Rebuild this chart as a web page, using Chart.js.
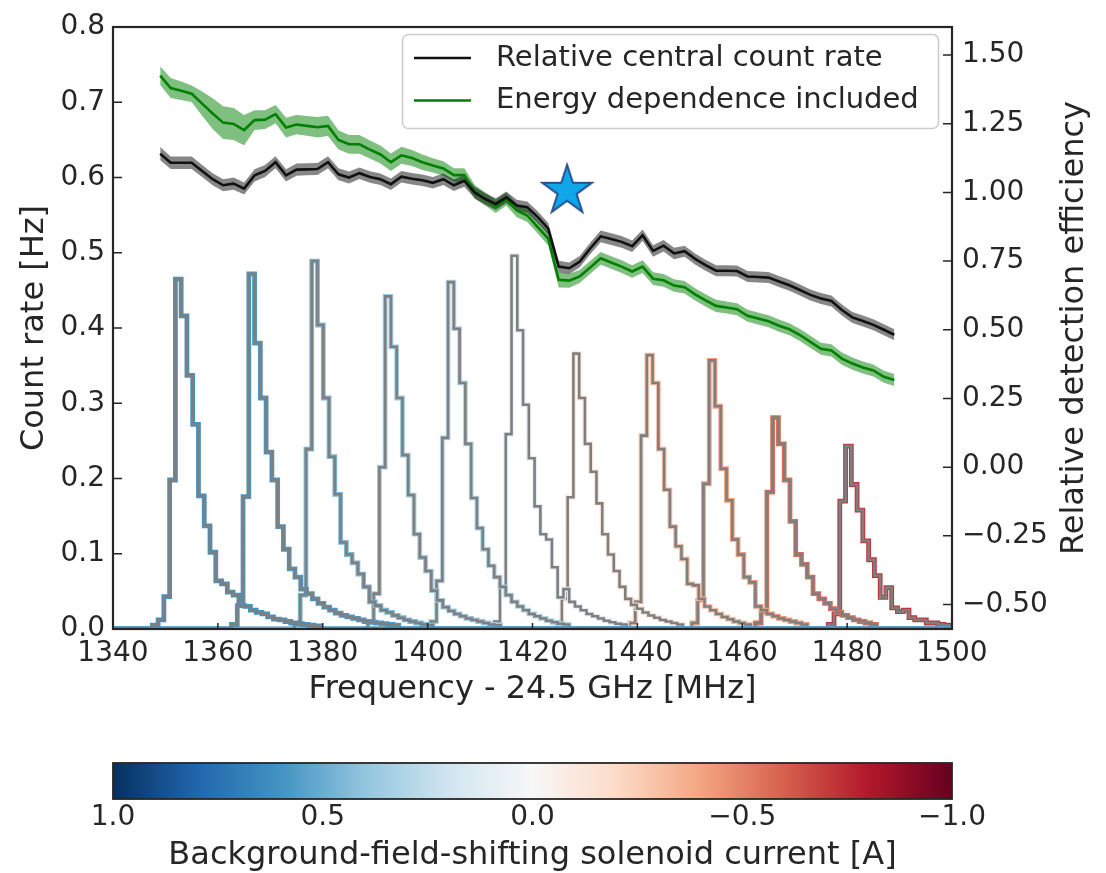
<!DOCTYPE html>
<html lang="en">
<head>
  <meta charset="UTF-8" />
  <title>Count rate vs frequency</title>
  <script src="https://cdn.jsdelivr.net/npm/chart.js@4.4.0/dist/chart.umd.min.js"></script>
  <style>
    * { margin: 0; padding: 0; }
    body { width: 1106px; height: 873px; background: #fff; position: relative; overflow: hidden; }
    #mainBox { position: absolute; left: 0; top: 0; width: 1106px; height: 720px; }
    #barBox { position: absolute; left: 0; top: 740px; width: 1106px; height: 133px; }
  </style>
</head>
<body>
  <div id="mainBox"><canvas id="mainChart"></canvas></div>
  <div id="barBox"><canvas id="colorBar"></canvas></div>
  <script>
    // ---- data ----
    const curveFreq = [
      1349, 1351, 1353, 1355, 1357, 1359, 1361, 1363, 1365, 1367,
      1369, 1371, 1373, 1375, 1377, 1379, 1381, 1383, 1385, 1387,
      1389, 1391, 1393, 1395, 1397, 1399, 1401, 1403, 1405, 1407,
      1409, 1411, 1413, 1415, 1417, 1419, 1421, 1423, 1425, 1427,
      1429, 1431, 1433, 1435, 1437, 1439, 1441, 1443, 1445, 1447,
      1449, 1451, 1453, 1455, 1457, 1459, 1461, 1463, 1465, 1467,
      1469, 1471, 1473, 1475, 1477, 1479, 1481, 1483, 1485, 1487,
      1489
    ];
    // relative central count rate (right axis units)
    const rateEff = [
      1.141, 1.108, 1.108, 1.108, 1.078, 1.048, 1.026, 1.032, 1.014, 1.062,
      1.078, 1.110, 1.062, 1.083, 1.084, 1.085, 1.110, 1.066, 1.054, 1.070,
      1.056, 1.048, 1.030, 1.057, 1.050, 1.044, 1.035, 1.048, 1.026, 1.042,
      0.999, 0.976, 0.958, 0.982, 0.952, 0.946, 0.910, 0.868, 0.730, 0.724,
      0.748, 0.796, 0.840, 0.830, 0.820, 0.804, 0.844, 0.787, 0.806, 0.778,
      0.786, 0.758, 0.735, 0.715, 0.715, 0.714, 0.694, 0.692, 0.690, 0.676,
      0.662, 0.645, 0.627, 0.614, 0.605, 0.572, 0.545, 0.532, 0.518, 0.500,
      0.482
    ];
    const rateErr = [
      0.024, 0.023, 0.023, 0.023, 0.022, 0.022, 0.022, 0.022, 0.022, 0.022,
      0.022, 0.022, 0.022, 0.022, 0.022, 0.022, 0.022, 0.022, 0.022, 0.021,
      0.021, 0.021, 0.021, 0.021, 0.021, 0.021, 0.021, 0.021, 0.021, 0.021,
      0.021, 0.021, 0.021, 0.021, 0.021, 0.021, 0.021, 0.021, 0.021, 0.021,
      0.021, 0.021, 0.021, 0.021, 0.021, 0.021, 0.021, 0.021, 0.021, 0.021,
      0.020, 0.020, 0.020, 0.020, 0.020, 0.020, 0.020, 0.020, 0.020, 0.020,
      0.020, 0.020, 0.020, 0.020, 0.020, 0.020, 0.020, 0.020, 0.020, 0.020,
      0.020
    ];
    // energy dependence included
    const energyEff = [
      1.425, 1.380, 1.370, 1.359, 1.323, 1.287, 1.254, 1.249, 1.227, 1.263,
      1.265, 1.285, 1.236, 1.247, 1.242, 1.237, 1.242, 1.191, 1.175, 1.175,
      1.156, 1.138, 1.110, 1.135, 1.125, 1.110, 1.098, 1.087, 1.063, 1.063,
      1.002, 0.976, 0.949, 0.976, 0.934, 0.916, 0.874, 0.832, 0.682, 0.679,
      0.694, 0.727, 0.760, 0.745, 0.730, 0.712, 0.730, 0.686, 0.680, 0.661,
      0.655, 0.629, 0.607, 0.587, 0.581, 0.575, 0.551, 0.541, 0.531, 0.515,
      0.502, 0.481, 0.456, 0.431, 0.425, 0.395, 0.377, 0.363, 0.352, 0.329,
      0.317
    ];
    const energyErr = [
      0.034, 0.036, 0.034, 0.030, 0.044, 0.056, 0.060, 0.058, 0.055, 0.036,
      0.034, 0.033, 0.036, 0.035, 0.036, 0.037, 0.037, 0.035, 0.034, 0.034,
      0.033, 0.033, 0.032, 0.031, 0.029, 0.028, 0.026, 0.026, 0.025, 0.025,
      0.025, 0.024, 0.024, 0.024, 0.024, 0.024, 0.024, 0.025, 0.028, 0.026,
      0.024, 0.023, 0.023, 0.023, 0.023, 0.023, 0.023, 0.023, 0.023, 0.023,
      0.023, 0.022, 0.022, 0.022, 0.022, 0.022, 0.022, 0.022, 0.022, 0.022,
      0.022, 0.022, 0.022, 0.022, 0.022, 0.022, 0.022, 0.022, 0.022, 0.022,
      0.022
    ];

    // marker star
    const starFreq = [1426.6];
    const starEff = [1.006];

    // step histograms: left edge of first bin, solenoid current, counts [Hz]
    const binWidth = 1.1;
    const histStart = [1347.5, 1362.6, 1374.6, 1388.6, 1400.6, 1412.7, 1424.5, 1438.5, 1450.4, 1462.5, 1476.4];
    const histCurrent = [0.6, 0.58, 0.45, 0.36, 0.3, 0.1, -0.12, -0.3, -0.42, -0.56, -0.72];
    const histCounts = [
      [0.005, 0.012, 0.043, 0.198, 0.465, 0.416, 0.337, 0.272, 0.177, 0.137, 0.102, 0.064, 0.060, 0.049, 0.045, 0.031, 0.030, 0.025, 0.022, 0.020, 0.016, 0.013, 0.012, 0.010, 0.008, 0.007, 0.006, 0.005, 0.004],
      [0.006, 0.031, 0.176, 0.472, 0.380, 0.307, 0.235, 0.198, 0.136, 0.106, 0.080, 0.069, 0.053, 0.047, 0.040, 0.034, 0.029, 0.025, 0.021, 0.018, 0.016, 0.014, 0.012, 0.010, 0.009, 0.008, 0.007, 0.006, 0.005],
      [0.006, 0.045, 0.239, 0.489, 0.404, 0.307, 0.229, 0.179, 0.115, 0.099, 0.088, 0.073, 0.056, 0.036, 0.031, 0.025, 0.022, 0.018, 0.015, 0.012, 0.010, 0.008, 0.006, 0.005],
      [0.010, 0.047, 0.215, 0.442, 0.375, 0.307, 0.231, 0.178, 0.126, 0.095, 0.077, 0.051, 0.038, 0.029, 0.024, 0.020, 0.017, 0.014, 0.012, 0.010, 0.008, 0.006, 0.005],
      [0.010, 0.064, 0.254, 0.461, 0.399, 0.327, 0.246, 0.174, 0.134, 0.106, 0.084, 0.069, 0.056, 0.045, 0.036, 0.030, 0.025, 0.020, 0.017, 0.014, 0.011, 0.009, 0.007, 0.006],
      [0.010, 0.056, 0.259, 0.496, 0.397, 0.298, 0.227, 0.163, 0.126, 0.119, 0.082, 0.042, 0.053, 0.036, 0.030, 0.025, 0.020, 0.017, 0.014, 0.011, 0.009, 0.007, 0.006],
      [0.008, 0.040, 0.175, 0.366, 0.307, 0.246, 0.209, 0.167, 0.126, 0.099, 0.077, 0.056, 0.040, 0.032, 0.027, 0.022, 0.018, 0.015, 0.012, 0.010, 0.008, 0.006],
      [0.008, 0.036, 0.257, 0.364, 0.327, 0.239, 0.185, 0.136, 0.110, 0.093, 0.060, 0.058, 0.040, 0.030, 0.025, 0.020, 0.016, 0.013, 0.010, 0.008, 0.006],
      [0.008, 0.038, 0.193, 0.357, 0.296, 0.213, 0.171, 0.119, 0.099, 0.069, 0.062, 0.030, 0.025, 0.020, 0.017, 0.014, 0.012, 0.010, 0.008, 0.006],
      [0.008, 0.023, 0.182, 0.281, 0.246, 0.198, 0.143, 0.099, 0.086, 0.069, 0.047, 0.040, 0.034, 0.027, 0.022, 0.018, 0.015, 0.012, 0.010, 0.008, 0.006],
      [0.006, 0.020, 0.170, 0.243, 0.192, 0.158, 0.117, 0.092, 0.071, 0.042, 0.055, 0.028, 0.023, 0.025, 0.015, 0.012, 0.012, 0.008, 0.008, 0.006, 0.005]
    ];

    const freqTicks = [1340, 1360, 1380, 1400, 1420, 1440, 1460, 1480, 1500];
    const countTicks = [0, 0.1, 0.2, 0.3, 0.4, 0.5, 0.6, 0.7, 0.8];
    const effTicks = [-0.5, -0.25, 0, 0.25, 0.5, 0.75, 1.0, 1.25, 1.5];
    const currentTicks = [1, 0.5, 0, -0.5, -1];

    // RdBu reversed, blue (current +1) to red (current -1)
    const cmapStops = ['#053061', '#2166ac', '#4393c3', '#92c5de', '#d1e5f0', '#f7f7f7',
                       '#fddbc7', '#f4a582', '#d6604d', '#b2182b', '#67001f'];

    // ---- helpers ----
    Chart.defaults.font.family = "'DejaVu Sans', sans-serif";
    Chart.defaults.color = '#262626';

    function minusFmt(v, d) {
      return (v < 0 ? '\u2212' : '') + Math.abs(v).toFixed(d);
    }

    function hexRgb(h) {
      return [parseInt(h.slice(1, 3), 16), parseInt(h.slice(3, 5), 16), parseInt(h.slice(5, 7), 16)];
    }

    function cmapColor(current) {
      const t = Math.min(Math.max((1 - current) / 2, 0), 1);
      const n = cmapStops.length - 1;
      const p = t * n;
      const i = Math.min(Math.floor(p), n - 1);
      const f = p - i;
      const a = hexRgb(cmapStops[i]);
      const b = hexRgb(cmapStops[i + 1]);
      const c = a.map((v, k) => Math.round(v + (b[k] - v) * f));
      return 'rgb(' + c.join(',') + ')';
    }

    function histPoints(start, counts) {
      const pts = [{ x: 1340, y: 0 }];
      counts.forEach((v, i) => pts.push({ x: start + i * binWidth, y: v }));
      pts.push({ x: start + counts.length * binWidth, y: 0 });
      pts.push({ x: 1500, y: 0 });
      return pts;
    }

    function starImage() {
      const c = document.createElement('canvas');
      c.width = 60;
      c.height = 60;
      const g = c.getContext('2d');
      const R = 26, r = 26 * 0.382;
      g.beginPath();
      for (let i = 0; i < 10; i++) {
        const rad = i % 2 === 0 ? R : r;
        const ang = -Math.PI / 2 + i * Math.PI / 5;
        const px = 30 + rad * Math.cos(ang);
        const py = 30 + rad * Math.sin(ang);
        if (i === 0) g.moveTo(px, py); else g.lineTo(px, py);
      }
      g.closePath();
      g.fillStyle = '#0fa6ea';
      g.fill();
      g.lineWidth = 2;
      g.lineJoin = 'miter';
      g.strokeStyle = '#24508f';
      g.stroke();
      return c;
    }

    // ---- datasets ----
    const datasets = [];

    datasets.push({
      label: 'star',
      data: starFreq.map((f, i) => ({ x: f, y: starEff[i] })),
      yAxisID: 'y1',
      showLine: false,
      pointStyle: starImage(),
      pointRadius: 26,
      order: 0
    });

    datasets.push({
      label: 'Relative central count rate',
      inLegend: true,
      data: curveFreq.map((f, i) => ({ x: f, y: rateEff[i] })),
      yAxisID: 'y1',
      borderColor: '#111111',
      borderWidth: 2.6,
      pointRadius: 0,
      fill: false,
      order: 1
    });

    datasets.push({
      label: 'Energy dependence included',
      inLegend: true,
      data: curveFreq.map((f, i) => ({ x: f, y: energyEff[i] })),
      yAxisID: 'y1',
      borderColor: '#008000',
      borderWidth: 2.6,
      pointRadius: 0,
      fill: false,
      order: 2
    });

    // error bands: upper fills to the next dataset (lower)
    datasets.push({
      data: curveFreq.map((f, i) => ({ x: f, y: rateEff[i] + rateErr[i] })),
      yAxisID: 'y1', borderWidth: 0, borderColor: 'transparent', pointRadius: 0,
      backgroundColor: 'rgba(0,0,0,0.47)', fill: '+1', order: 3
    });
    datasets.push({
      data: curveFreq.map((f, i) => ({ x: f, y: rateEff[i] - rateErr[i] })),
      yAxisID: 'y1', borderWidth: 0, borderColor: 'transparent', pointRadius: 0,
      fill: false, order: 3
    });
    datasets.push({
      data: curveFreq.map((f, i) => ({ x: f, y: energyEff[i] + energyErr[i] })),
      yAxisID: 'y1', borderWidth: 0, borderColor: 'transparent', pointRadius: 0,
      backgroundColor: 'rgba(0,128,0,0.5)', fill: '+1', order: 4
    });
    datasets.push({
      data: curveFreq.map((f, i) => ({ x: f, y: energyEff[i] - energyErr[i] })),
      yAxisID: 'y1', borderWidth: 0, borderColor: 'transparent', pointRadius: 0,
      fill: false, order: 4
    });

    histCounts.forEach((counts, i) => {
      const pts = histPoints(histStart[i], counts);
      datasets.push({
        data: pts, yAxisID: 'y', stepped: true, pointRadius: 0,
        borderColor: '#7f7f7f', borderWidth: 2.6, fill: false, order: 10 + i * 2
      });
      datasets.push({
        data: pts, yAxisID: 'y', stepped: true, pointRadius: 0,
        borderColor: cmapColor(histCurrent[i]), borderWidth: 4.8, fill: false, order: 11 + i * 2
      });
    });

    // ---- frame, inward ticks, right title, legend ----
    const framePlugin = {
      id: 'frame',
      afterDatasetsDraw(chart) {
        const { ctx, chartArea: a, scales } = chart;
        ctx.save();
        ctx.strokeStyle = '#262626';
        ctx.lineWidth = 1.5;
        ctx.beginPath();
        freqTicks.forEach(v => {
          const px = scales.x.getPixelForValue(v);
          ctx.moveTo(px, a.bottom);
          ctx.lineTo(px, a.bottom - 6);
        });
        countTicks.forEach(v => {
          const py = scales.y.getPixelForValue(v);
          ctx.moveTo(a.left, py);
          ctx.lineTo(a.left + 9, py);
        });
        effTicks.forEach(v => {
          const py = scales.y1.getPixelForValue(v);
          ctx.moveTo(a.right, py);
          ctx.lineTo(a.right - 9, py);
        });
        ctx.stroke();
        ctx.lineWidth = 2.2;
        ctx.strokeRect(a.left, a.top, a.right - a.left, a.bottom - a.top);
        ctx.restore();
      },
      afterDraw(chart) {
        const { ctx, chartArea: a } = chart;
        ctx.save();
        // right axis title, reading bottom to top
        ctx.translate(1075, (a.top + a.bottom) / 2);
        ctx.rotate(-Math.PI / 2);
        ctx.fillStyle = '#262626';
        ctx.font = "32px 'DejaVu Sans', sans-serif";
        ctx.textAlign = 'center';
        ctx.textBaseline = 'middle';
        ctx.fillText('Relative detection efficiency', 0, 0);
        ctx.restore();

        // legend box
        const items = chart.data.datasets.filter(d => d.inLegend);
        ctx.save();
        ctx.beginPath();
        ctx.roundRect(402.5, 34.5, 536, 94, 6);
        ctx.fillStyle = 'rgba(255,255,255,0.85)';
        ctx.fill();
        ctx.strokeStyle = '#cccccc';
        ctx.lineWidth = 1.5;
        ctx.stroke();
        ctx.font = "29px 'DejaVu Sans', sans-serif";
        ctx.textAlign = 'left';
        ctx.textBaseline = 'middle';
        items.forEach((d, i) => {
          const yy = 58 + i * 42.5;
          ctx.strokeStyle = d.borderColor;
          ctx.lineWidth = d.borderWidth;
          ctx.beginPath();
          ctx.moveTo(414, yy);
          ctx.lineTo(471, yy);
          ctx.stroke();
          ctx.fillStyle = '#262626';
          ctx.fillText(d.label, 496, yy);
        });
        ctx.restore();
      }
    };

    const tickSet = arr => scale => { scale.ticks = arr.map(v => ({ value: v })); };

    new Chart(document.getElementById('mainChart'), {
      type: 'line',
      data: { datasets: datasets },
      options: {
        responsive: true,
        maintainAspectRatio: false,
        animation: false,
        devicePixelRatio: 1,
        events: [],
        layout: { padding: { top: 19, left: 0, right: 0, bottom: 0 } },
        plugins: { legend: { display: false }, tooltip: { enabled: false } },
        elements: { line: { tension: 0, borderJoinStyle: 'miter' } },
        scales: {
          x: {
            type: 'linear',
            min: 1340,
            max: 1500,
            afterBuildTicks: tickSet(freqTicks),
            afterFit: s => { s.height = 91; },
            grid: { display: false, drawTicks: false },
            border: { display: false },
            ticks: { font: { size: 28 }, padding: 8, maxRotation: 0, autoSkip: false, callback: v => String(v) },
            title: { display: true, text: 'Frequency - 24.5 GHz [MHz]', font: { size: 32 }, padding: { top: 0, bottom: 11 } }
          },
          y: {
            position: 'left',
            min: 0,
            max: 0.8,
            afterBuildTicks: tickSet(countTicks),
            afterFit: s => { s.width = 113; },
            grid: { display: false, drawTicks: false },
            border: { display: false },
            ticks: { font: { size: 28 }, padding: 8, autoSkip: false, callback: v => v.toFixed(1) },
            title: { display: true, text: 'Count rate [Hz]', font: { size: 32 }, padding: { top: 15, bottom: 0 } }
          },
          y1: {
            position: 'right',
            min: -0.589,
            max: 1.602,
            afterBuildTicks: tickSet(effTicks),
            afterFit: s => { s.width = 154; },
            grid: { display: false, drawTicks: false },
            border: { display: false },
            ticks: { font: { size: 28 }, padding: 10, autoSkip: false, callback: v => minusFmt(v, 2) }
          }
        }
      },
      plugins: [framePlugin]
    });

    // ---- colour bar ----
    const colorBarPlugin = {
      id: 'colorBarFill',
      beforeDatasetsDraw(chart) {
        const { ctx, chartArea: a } = chart;
        const g = ctx.createLinearGradient(a.left, 0, a.right, 0);
        cmapStops.forEach((c, i) => g.addColorStop(i / (cmapStops.length - 1), c));
        ctx.save();
        ctx.fillStyle = g;
        ctx.fillRect(a.left, a.top, a.right - a.left, a.bottom - a.top);
        ctx.strokeStyle = '#262626';
        ctx.lineWidth = 1.8;
        ctx.strokeRect(a.left, a.top, a.right - a.left, a.bottom - a.top);
        ctx.restore();
      }
    };

    new Chart(document.getElementById('colorBar'), {
      type: 'scatter',
      data: { datasets: [] },
      options: {
        responsive: true,
        maintainAspectRatio: false,
        animation: false,
        devicePixelRatio: 1,
        events: [],
        layout: { padding: { top: 23, left: 113, right: 154, bottom: 0 } },
        plugins: { legend: { display: false }, tooltip: { enabled: false } },
        scales: {
          x: {
            type: 'linear',
            reverse: true,
            min: -1,
            max: 1,
            afterBuildTicks: tickSet(currentTicks),
            afterFit: s => { s.height = 74; },
            grid: { display: false, drawTicks: false },
            border: { display: false },
            ticks: { font: { size: 28 }, padding: 2, maxRotation: 0, autoSkip: false, callback: v => minusFmt(v, 1) },
            title: { display: true, text: 'Background-field-shifting solenoid current [A]', font: { size: 32, lineHeight: 1 }, padding: { top: 0, bottom: 1 } }
          },
          y: { display: false, min: 0, max: 1 }
        }
      },
      plugins: [colorBarPlugin]
    });
  </script>
</body>
</html>
